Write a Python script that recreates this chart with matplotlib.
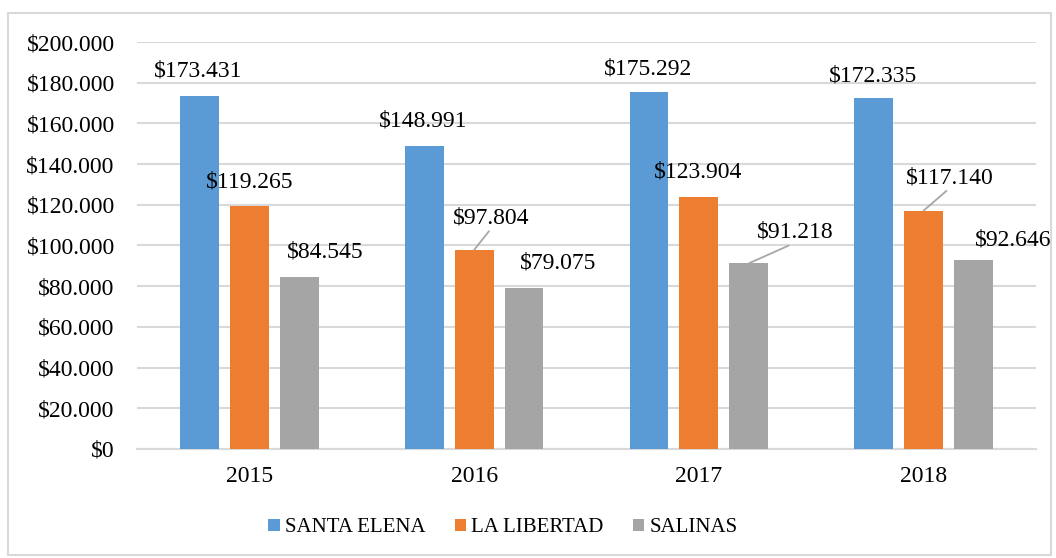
import numpy as np
import matplotlib
matplotlib.use("Agg")
import matplotlib.pyplot as plt
from matplotlib.patches import Rectangle
from matplotlib.ticker import FuncFormatter

years = ["2015", "2016", "2017", "2018"]
series_names = ["SANTA ELENA", "LA LIBERTAD", "SALINAS"]
santa_elena = [173431, 148991, 175292, 172335]
la_libertad = [119265, 97804, 123904, 117140]
salinas = [84545, 79075, 91218, 92646]

colors = ["#5b9bd5", "#ed7d31", "#a5a5a5"]

# label offsets (pixels) from top-centre of each bar, and whether a leader line is drawn
label_offsets = [
    [(-1, 25), (-1, 25), (-1, 23), (-1, 22)],
    [(0, 24), (17, 32), (-1, 25), (26, 33)],
    [(26, 25), (34, 25), (46, 31), (40, 20)],
]
leaders = [
    [False, False, False, False],
    [False, True, False, True],
    [False, False, True, False],
]

plt.rcParams['font.family'] = ['Liberation Serif', 'DejaVu Serif']

fig = plt.figure(figsize=(10.56, 5.58), dpi=100)
ax = fig.add_axes([137 / 1056, 109 / 558, 899 / 1056, 407 / 558])

# light frame around the chart
fig.patches.append(Rectangle((8 / 1056, 3 / 558), 1043 / 1056, 542 / 558,
                             transform=fig.transFigure, fill=False,
                             edgecolor="#d9d9d9", linewidth=1.5))

x = np.arange(len(years))
width = 0.1733
step = 0.222
all_series = [santa_elena, la_libertad, salinas]

for i, (vals, name) in enumerate(zip(all_series, series_names)):
    pos = x + (i - 1) * step
    bars = ax.bar(pos, vals, width=width, color=colors[i], label=name, zorder=3)
    for j, b in enumerate(bars):
        v = vals[j]
        txt = "$" + f"{v:,}".replace(",", ".")
        dx, dy = label_offsets[i][j]
        kw = {}
        if leaders[i][j]:
            kw["arrowprops"] = dict(arrowstyle="-", color="#a6a6a6", lw=1.3,
                                    relpos=(0.5, 0.0), shrinkA=0, shrinkB=0)
        ax.annotate(txt, xy=(b.get_x() + b.get_width() / 2, v),
                    xytext=(dx, dy), textcoords="offset pixels",
                    ha="center", va="center", fontsize=17, color="#000000",
                    zorder=4, **kw)

ax.set_xlim(-0.5, len(years) - 0.5)
ax.set_ylim(0, 200000)
ax.set_yticks(np.arange(0, 200001, 20000))
ax.yaxis.set_major_formatter(FuncFormatter(lambda v, p: "$" + f"{int(v):,}".replace(",", ".")))
ax.set_xticks(x)
ax.set_xticklabels(years)
ax.tick_params(axis="y", length=0, pad=16, labelsize=17)
ax.tick_params(axis="x", length=0, pad=12, labelsize=17)
ax.grid(axis="y", color="#d9d9d9", linewidth=1.5, zorder=0)
for s in ["top", "right", "left"]:
    ax.spines[s].set_visible(False)
ax.spines["bottom"].set_color("#d9d9d9")
ax.spines["bottom"].set_linewidth(1.5)

fig.legend(loc="center", bbox_to_anchor=(503 / 1056, 1 - 528 / 558), ncol=3,
           frameon=False, fontsize=15, handlelength=0.55, handleheight=0.55,
           handletextpad=0.25, columnspacing=1.4, borderpad=0)

fig.savefig("out.png", dpi=100)
